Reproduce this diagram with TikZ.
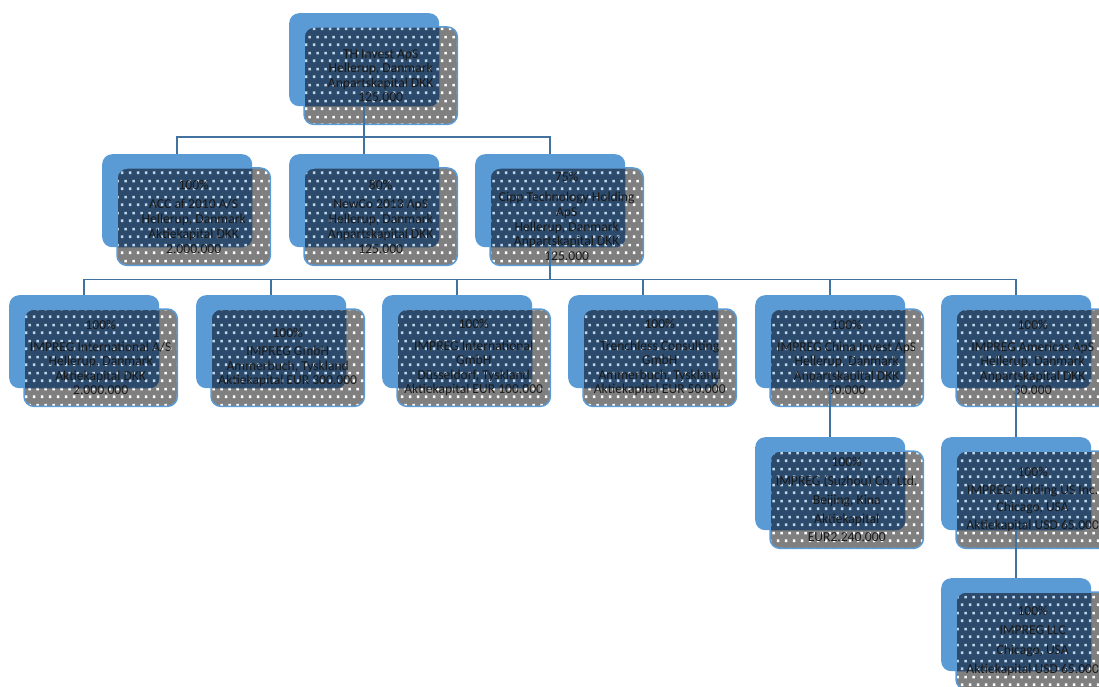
\documentclass[tikz,border=0pt]{standalone}
\usepackage{fontspec}
\setmainfont{Carlito}
\usetikzlibrary{patterns,calc}
\pgfdeclarepatternformonly{sqdots}{\pgfpointorigin}{\pgfpoint{8pt}{16pt}}{\pgfpoint{8pt}{16pt}}{%
  \pgfpathrectangle{\pgfpoint{1pt}{1pt}}{\pgfpoint{2.7pt}{2.7pt}}%
  \pgfpathrectangle{\pgfpoint{5pt}{9pt}}{\pgfpoint{2.7pt}{2.7pt}}%
  \pgfusepath{fill}}
\definecolor{boxblue}{RGB}{91,155,213}
\definecolor{navyfill}{RGB}{44,74,107}
\definecolor{boxgrey}{RGB}{127,127,127}
\definecolor{dotblue}{RGB}{190,214,236}
\definecolor{connblue}{RGB}{65,114,160}
\definecolor{txtcol}{RGB}{25,25,25}
\tikzset{
  bluebox/.style={rectangle, rounded corners=10pt, fill=boxblue, minimum width=150pt, minimum height=93pt, inner sep=0pt, anchor=north west},
  greybox/.style={rectangle, rounded corners=10pt, preaction={fill=boxgrey}, pattern=sqdots, pattern color=white, minimum width=153pt, minimum height=97pt, inner sep=0pt, anchor=north west},
  greyrim/.style={draw=boxblue, line width=1.5pt, rounded corners=10pt},
  navyarea/.style={rounded corners=10pt, preaction={fill=navyfill}, pattern=sqdots, pattern color=dotblue},
  orgtext/.style={align=center, text=txtcol, inner sep=0pt},
  conn/.style={draw=connblue, line width=1.8pt}
}
% #1 name, #2 x, #3 y (top-left of blue box), #4 baselineskip, #5 text
\newcommand\orgunit[5]{%
  \node[bluebox] (#1) at (#2,#3) {};
  \node[greybox] (#1g) at ($(#1.north west)+(15,14)$) {};
  \begin{scope}
    \clip[rounded corners=10pt] (#1.north west) rectangle (#1.south east);
    \path[navyarea] (#1g.north west) rectangle (#1g.south east);
  \end{scope}
  \path[greyrim] (#1g.north west) rectangle (#1g.south east);
  \node[orgtext, font=\fontsize{13.6}{#4}\selectfont] (#1t) at (#1g.center) {#5};
}
\begin{document}
\begin{tikzpicture}[x=1pt, y=-1pt]
\useasboundingbox (0,0) rectangle (1099,687);
\orgunit{top}{289}{13}{14.5}{TH Invest ApS\\Hellerup, Danmark\\Anpartskapital DKK\\125.000}
\orgunit{aone}{102}{154}{14.8}{100\%\\[5pt]ACC af 2010 A/S\\Hellerup, Danmark\\Aktiekapital DKK\\2.000.000}
\orgunit{atwo}{289}{154}{14.8}{80\%\\[5pt]NewCo 2013 ApS\\Hellerup, Danmark\\Anpartskapital DKK\\125.000}
\orgunit{athree}{475}{154}{14.8}{75\%\\[5pt]Cipp Technology Holding\\ApS\\Hellerup, Danmark\\Anpartskapital DKK\\125.000}
\orgunit{bone}{9}{295}{14.5}{100\%\\[7pt]IMPREG International A/S\\Hellerup, Danmark\\Aktiekapital DKK\\2.000.000}
\orgunit{btwo}{196}{295}{14.5}{100\%\\[4pt]IMPREG GmbH\\Ammerbuch, Tyskland\\Aktiekapital EUR 300.000}
\orgunit{bthree}{382}{295}{14.5}{100\%\\[7pt]IMPREG International\\GmbH\\Düsseldorf, Tyskland\\Aktiekapital EUR 100.000}
\orgunit{bfour}{568}{295}{14.5}{100\%\\[7pt]Trenchless Consulting\\GmbH\\Ammerbuch, Tyskland\\Aktiekapital EUR 50.000}
\orgunit{bfive}{755}{295}{14.5}{100\%\\[7pt]IMPREG China Invest ApS\\Hellerup, Danmark\\Anpartskapital DKK\\50.000}
\orgunit{bsix}{941}{295}{14.5}{100\%\\[7pt]IMPREG Americas ApS\\Hellerup, Danmark\\Anpartskapital DKK\\50.000}
\orgunit{cfive}{755}{437}{18.8}{100\%\\IMPREG (Suzhou) Co. Ltd.\\Beijing, Kina\\Aktiekapital\\EUR2.240.000}
\orgunit{csix}{941}{437}{17.5}{100\%\\IMPREG Holding US Inc.\\Chicago, USA\\Aktiekapital USD 65.000}
\orgunit{dsix}{941}{578}{19.5}{100\%\\IMPREG LLC\\Chicago, USA\\Aktiekapital USD 65.000}
% connectors
\coordinate (barone) at ($(top.south)+(0,31)$);
\draw[conn] (top.south) -- (atwo.north);
\draw[conn] (barone) -| (aone.north);
\draw[conn] (barone) -| (athree.north);
\coordinate (bartwo) at ($(athree.south)+(0,32)$);
\draw[conn] (athree.south) -- (bartwo);
\foreach \n in {bone,btwo,bthree,bfour,bfive,bsix}{
  \draw[conn] (bartwo) -| (\n.north);
}
\draw[conn] (bfive.south) -- (cfive.north);
\draw[conn] (bsix.south) -- (csix.north);
\draw[conn] (csix.south) -- (dsix.north);
\end{tikzpicture}
\end{document}
